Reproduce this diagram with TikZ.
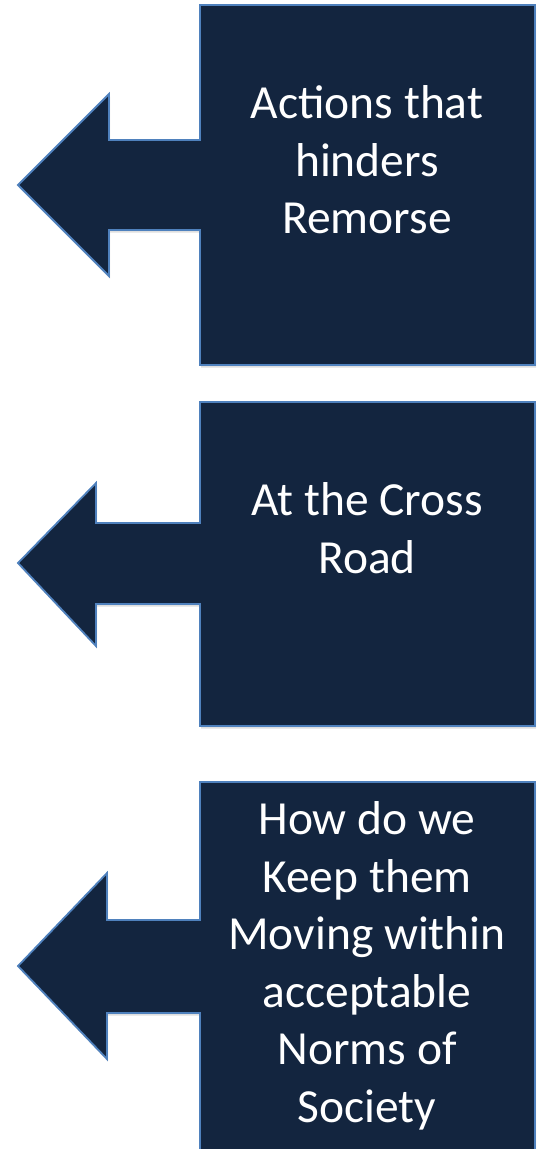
\documentclass[tikz,border=0pt]{standalone}
\usepackage{fontspec}
\setmainfont{Carlito}
\usepackage{tikz}
\usetikzlibrary{shadows}
\definecolor{navy}{HTML}{13253F}
\definecolor{edge}{HTML}{4F81BD}
\tikzset{
  panel/.style={fill=navy, draw=edge, line width=1.8pt, line join=miter,
    drop shadow={shadow xshift=1pt, shadow yshift=-2.5pt, opacity=0.25}},
  lab/.style={text=white, align=center, font=\fontsize{47.5}{57.5}\selectfont}
}

\begin{document}
\begin{tikzpicture}[x=1pt,y=-1pt]
    \useasboundingbox (0,0) rectangle (545,1149);

    % Remorse
    \draw[panel] (200,5) -- (535,5) -- (535,365) -- (200,365) -- (200,230)
      -- (109,230) -- (109,276) -- (18,185) -- (109,94) -- (109,140) -- (200,140) -- cycle;
    \node[lab] (remorse) at (367,160) {Actions that\\hinders\\Remorse};

    % Cross road
    \draw[panel] (200,402) -- (535,402) -- (535,726) -- (200,726) -- (200,604)
      -- (96,604) -- (96,646) -- (18,563) -- (96,483) -- (96,523) -- (200,523) -- cycle;
    \node[lab] (crossroad) at (367,528) {At the Cross\\Road};

    % Norms
    \draw[panel] (200,782) -- (535,782) -- (535,1160) -- (200,1160) -- (200,1013)
      -- (107,1013) -- (107,1059) -- (18,966) -- (107,873) -- (107,920) -- (200,920) -- cycle;
    \node[lab] (norms) at (367,966) {How do we\\Keep them\\Moving within\\acceptable\\Norms of\\Society};
\end{tikzpicture}
\end{document}
